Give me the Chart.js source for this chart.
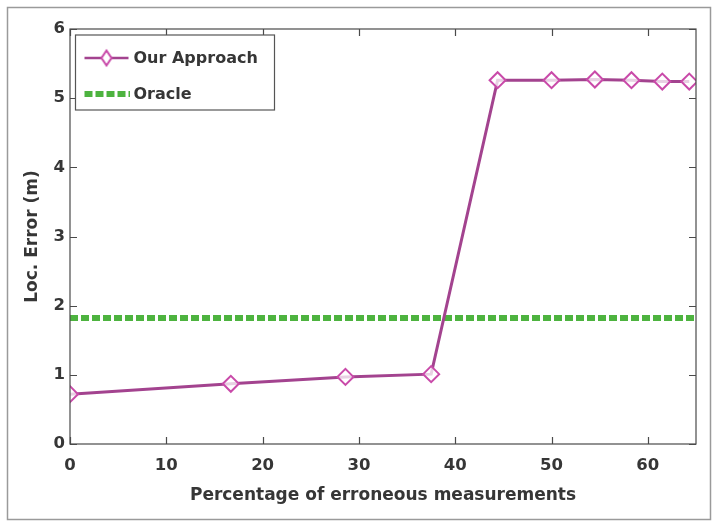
<!DOCTYPE html>
<html>
<head>
<meta charset="utf-8">
<script src="https://cdn.jsdelivr.net/npm/chart.js@4/dist/chart.umd.min.js"></script>
<style>
    html, body { margin: 0; padding: 0; background: #fff; }
    #wrap { width: 717px; height: 524px; }
</style>
</head>
<body>
<div id="wrap"><canvas id="errChart" width="717" height="524"></canvas></div>
<script>
// values
const pctErroneous = [0, 16.7, 28.6, 37.5, 44.4, 50, 54.5, 58.3, 61.5, 64.3];
const approachError = [0.72, 0.87, 0.97, 1.01, 5.26, 5.26, 5.27, 5.26, 5.24, 5.24];
const oracleX = [0, 65];
const oracleError = [1.82, 1.82];
const xTickValues = [0, 10, 20, 30, 40, 50, 60];
const yTickValues = [0, 1, 2, 3, 4, 5, 6];

const approachLine = "#a3438f";
const approachMarker = "#c94aa9";
const oracleColor = "#4db33f";
const axisColor = "#4a4a4a";
const textColor = "#363636";
const fontFamily = "'DejaVu Sans', sans-serif";

function makeLegendIcon(kind) {
    const c = document.createElement("canvas");
    c.width = 46;
    c.height = 20;
    const g = c.getContext("2d");
    if (kind === "approach") {
        g.strokeStyle = approachLine;
        g.lineWidth = 2.5;
        g.beginPath(); g.moveTo(1, 10); g.lineTo(45, 10); g.stroke();
        g.fillStyle = "#fff";
        g.strokeStyle = approachMarker;
        g.lineWidth = 2;
        g.beginPath();
        g.moveTo(23, 2.5); g.lineTo(28, 10); g.lineTo(23, 17.5); g.lineTo(18, 10);
        g.closePath(); g.fill(); g.stroke();
    } else {
        g.strokeStyle = oracleColor;
        g.lineWidth = 6;
        g.setLineDash([8, 3]);
        g.beginPath(); g.moveTo(1, 10); g.lineTo(46, 10); g.stroke();
    }
    return c;
}

const legendIcons = [makeLegendIcon("approach"), makeLegendIcon("oracle")];

// MATLAB look: outer frame, boxed axes with inward ticks, legend inside the axes
const matlabFrame = {
    id: "matlabFrame",
    beforeDraw(chart) {
        const ctx = chart.ctx;
        ctx.save();
        ctx.fillStyle = "#fff";
        ctx.fillRect(0, 0, chart.width, chart.height);
        ctx.strokeStyle = "#9a9a9a";
        ctx.lineWidth = 1.5;
        ctx.strokeRect(7.5, 7.5, 703, 512);
        ctx.restore();
    },
    afterDraw(chart) {
        const ctx = chart.ctx;
        const a = chart.chartArea;
        const xs = chart.scales.x;
        const ys = chart.scales.y;
        ctx.save();
        ctx.strokeStyle = axisColor;
        ctx.lineWidth = 1.2;
        ctx.strokeRect(a.left, a.top, a.right - a.left, a.bottom - a.top);
        ctx.beginPath();
        xs.ticks.forEach(t => {
            const px = Math.round(xs.getPixelForValue(t.value)) + 0.5;
            ctx.moveTo(px, a.bottom); ctx.lineTo(px, a.bottom - 7);
            ctx.moveTo(px, a.top); ctx.lineTo(px, a.top + 7);
        });
        ys.ticks.forEach(t => {
            const py = Math.round(ys.getPixelForValue(t.value)) + 0.5;
            ctx.moveTo(a.left, py); ctx.lineTo(a.left + 7, py);
            ctx.moveTo(a.right, py); ctx.lineTo(a.right - 7, py);
        });
        ctx.stroke();

        // legend box
        const bx = a.left + 5.5, by = a.top + 6, bw = 199, bh = 75;
        ctx.fillStyle = "#fff";
        ctx.fillRect(bx, by, bw, bh);
        ctx.strokeStyle = "#555";
        ctx.lineWidth = 1.2;
        ctx.strokeRect(bx, by, bw, bh);
        ctx.font = "bold 16px " + fontFamily;
        ctx.fillStyle = textColor;
        ctx.textBaseline = "middle";
        chart.data.datasets.forEach((ds, i) => {
            const cy = by + 23 + i * 36;
            ctx.drawImage(legendIcons[i], bx + 8, cy - 10);
            ctx.fillText(ds.label, bx + 58, cy + 1);
        });
        ctx.restore();
    }
};

const ctx = document.getElementById("errChart").getContext("2d");

const errChart = new Chart(ctx, {
    type: "line",
    data: {
        datasets: [
            {
                label: "Our Approach",
                data: pctErroneous.map((x, i) => ({ x: x, y: approachError[i] })),
                borderColor: approachLine,
                borderWidth: 3,
                pointStyle: "rectRot",
                pointRadius: 8,
                pointBorderWidth: 2,
                pointBorderColor: approachMarker,
                pointBackgroundColor: "rgba(255,255,255,0.75)",
                tension: 0,
                order: 1
            },
            {
                label: "Oracle",
                data: oracleX.map((x, i) => ({ x: x, y: oracleError[i] })),
                borderColor: oracleColor,
                borderWidth: 6,
                borderDash: [8, 3],
                pointRadius: 0,
                order: 2
            }
        ]
    },
    options: {
        responsive: false,
        animation: false,
        devicePixelRatio: 1,
        layout: { padding: { left: 0, top: 29, right: 21, bottom: 0 } },
        plugins: {
            legend: { display: false },
            tooltip: { enabled: false }
        },
        scales: {
            x: {
                type: "linear",
                min: 0,
                max: 65,
                grid: { display: false, drawTicks: false },
                border: { display: false },
                afterBuildTicks: s => { s.ticks = xTickValues.map(v => ({ value: v })); },
                afterFit: s => { s.height = 80; },
                ticks: { color: textColor, padding: 12, maxRotation: 0, font: { family: fontFamily, size: 16.5, weight: "bold" } },
                title: {
                    display: true,
                    text: "Percentage of erroneous measurements",
                    color: textColor,
                    padding: { top: 0, bottom: 18 },
                    font: { family: fontFamily, size: 17, weight: "bold" }
                }
            },
            y: {
                min: 0,
                max: 6,
                grid: { display: false, drawTicks: false },
                border: { display: false },
                afterBuildTicks: s => { s.ticks = yTickValues.map(v => ({ value: v })); },
                afterFit: s => { s.width = 70; },
                ticks: { color: textColor, padding: 5, font: { family: fontFamily, size: 16.5, weight: "bold" } },
                title: {
                    display: true,
                    text: "Loc. Error (m)",
                    color: textColor,
                    padding: { top: 22, bottom: 0 },
                    font: { family: fontFamily, size: 17, weight: "bold" }
                }
            }
        }
    },
    plugins: [matlabFrame]
});
</script>
</body>
</html>
